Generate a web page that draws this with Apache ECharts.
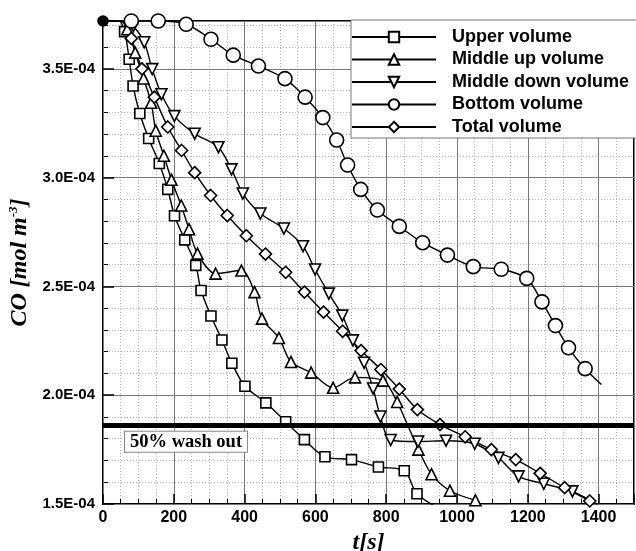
<!DOCTYPE html>
<html>
<head>
<meta charset="utf-8">
<script src="https://cdn.jsdelivr.net/npm/echarts@6/dist/echarts.min.js"></script>
<style>html,body{margin:0;padding:0;background:#fff}#c{width:636px;height:551px}</style>
</head>
<body>
<div id="c"></div>
<script>
// values in units of 1E-04 mol m^-3, time in s
const seriesNames = ['Upper volume', 'Middle up volume', 'Middle down volume', 'Bottom volume', 'Total volume'];

const upperT  = [0, 45, 61, 74, 85, 104, 129, 159, 183, 202, 231, 262, 277, 305, 336, 364, 401, 460, 516, 569, 627, 702, 778, 851, 887, 960];
const upperCO = [3.72, 3.72, 3.671, 3.544, 3.421, 3.295, 3.180, 3.065, 2.946, 2.825, 2.714, 2.597, 2.481, 2.364, 2.254, 2.147, 2.041, 1.965, 1.878, 1.796, 1.717, 1.704, 1.670, 1.653, 1.547, 1.47];

const midUpT  = [0, 50, 68.5, 91, 114.5, 136, 149, 172, 193.5, 221, 243, 267, 318, 391, 428, 449, 497, 531, 588, 650, 712, 791, 831, 891, 928, 980, 1052];
const midUpCO = [3.72, 3.72, 3.682, 3.5745, 3.456, 3.3445, 3.2157, 3.1007, 2.990, 2.872, 2.763, 2.651, 2.559, 2.573, 2.474, 2.352, 2.263, 2.153, 2.104, 2.034, 2.082, 2.067, 1.969, 1.750, 1.637, 1.561, 1.517];

const midDownT  = [0, 60, 85.5, 116.5, 139, 165, 201.7, 259, 326, 363, 395, 444.6, 511, 565, 599, 638, 676, 706, 737.6, 763, 783.6, 812.7, 890, 969, 1050, 1117, 1174, 1245, 1326, 1397];
const midDownCO = [3.72, 3.72, 3.696, 3.622, 3.499, 3.383, 3.283, 3.202, 3.140, 3.038, 2.927, 2.835, 2.766, 2.685, 2.578, 2.467, 2.366, 2.252, 2.149, 2.031, 1.902, 1.794, 1.787, 1.791, 1.777, 1.712, 1.627, 1.593, 1.558, 1.497];

const bottomT  = [0, 80, 156, 235, 305, 368, 439, 514, 571, 621, 660, 691, 728, 775, 837, 903, 973, 1046, 1125, 1197, 1240, 1278, 1315, 1362, 1408];
const bottomCO = [3.72, 3.72, 3.72, 3.705, 3.636, 3.563, 3.513, 3.455, 3.370, 3.276, 3.173, 3.058, 2.946, 2.851, 2.776, 2.701, 2.644, 2.591, 2.579, 2.537, 2.429, 2.320, 2.218, 2.122, 2.049];

const totalT  = [0, 55, 80, 110, 145, 183, 222, 259, 304, 351, 405, 459, 516, 569, 623, 677, 729, 785, 837, 888, 952, 1023, 1097, 1166, 1235, 1304, 1375];
const totalCO = [3.72, 3.72, 3.64, 3.50, 3.37, 3.233, 3.125, 3.023, 2.918, 2.826, 2.733, 2.649, 2.565, 2.474, 2.382, 2.294, 2.205, 2.118, 2.028, 1.934, 1.865, 1.809, 1.750, 1.704, 1.641, 1.575, 1.514];

const washOut = 1.86;
const washLabel = '50% wash out';

const xTickLabels = [0, 200, 400, 600, 800, 1000, 1200, 1400];
const yTickLabels = [1.5, 2.0, 2.5, 3.0, 3.5];

function build(t, v, noSymbol, firstDot) {
  return t.map((x, i) => {
    const item = { value: [x, v[i]] };
    if (i === 0 && firstDot) {
      item.symbol = 'circle'; item.symbolSize = 10;
      item.itemStyle = { color: '#000', borderColor: '#000' };
    } else if (noSymbol.indexOf(i) >= 0) {
      item.symbol = 'none';
    }
    return item;
  });
}

const chart = echarts.init(document.getElementById('c'), null, { renderer: 'canvas' });
const lineStyle = { color: '#000', width: 1.4 };
const markStyle = { color: '#fff', borderColor: '#000', borderWidth: 1.6 };
const labelFont = { fontFamily: 'Liberation Sans', fontWeight: 'bold', color: '#000' };

function mkSeries(name, data, symbol, size, rotate) {
  return {
    name, type: 'line', data, symbol, symbolSize: size, symbolRotate: rotate || 0,
    smooth: 0.3, showAllSymbol: true, clip: true,
    lineStyle, itemStyle: markStyle, emphasis: { disabled: true }
  };
}

const s1 = mkSeries(seriesNames[0], build(upperT, upperCO, [0, 1, upperT.length - 1]), 'rect', 10);
s1.markLine = {
  silent: true, symbol: ['none', 'none'],
  lineStyle: { color: '#000', width: 5, type: 'solid' },
  data: [{ yAxis: washOut }],
  label: {
    show: true, position: 'insideStartBottom', formatter: washLabel,
    fontFamily: 'Liberation Serif', fontWeight: 'bold', fontSize: 18.5, color: '#000',
    backgroundColor: '#fff', borderColor: '#888', borderWidth: 1, padding: [1, 5, 0, 5],
    distance: [22, 6]
  }
};
const s2 = mkSeries(seriesNames[1], build(midUpT, midUpCO, [0, 1]), 'triangle', 11);
const s3 = mkSeries(seriesNames[2], build(midDownT, midDownCO, [0, 1, midDownT.length - 1]), 'triangle', 11, 180);
const s4 = mkSeries(seriesNames[3], build(bottomT, bottomCO, [bottomT.length - 1], true), 'circle', 14);
const s5 = mkSeries(seriesNames[4], build(totalT, totalCO, [0, 1]), 'diamond', 12);

const isMult = (v, step) => Math.abs(v / step - Math.round(v / step)) < 1e-6;

chart.setOption({
  animation: false,
  grid: { left: 103, right: 2, top: 21, bottom: 47, show: true, borderColor: '#000', borderWidth: 2,
          backgroundColor: 'transparent', containLabel: false, outerBoundsMode: 'none' },
  legend: {
    orient: 'vertical', left: 351, top: 20, itemWidth: 84, itemHeight: 13, itemGap: 2.5,
    padding: [7, 20, 1, 0], backgroundColor: '#fff', borderColor: '#777', borderWidth: 1,
    textStyle: { fontFamily: 'Liberation Sans', fontWeight: 'bold', fontSize: 18, color: '#000', lineHeight: 20, padding: [0, 0, 0, 11] },
    data: seriesNames, selectedMode: false
  },
  xAxis: [
    {
      type: 'value', min: 0, max: 1500, interval: 200, position: 'bottom', z: 1,
      axisLine: { show: false },
      axisTick: { inside: true, length: 10, lineStyle: { color: '#000', width: 1.5 } },
      axisLabel: { ...labelFont, fontSize: 16, margin: 6,
        formatter: v => (isMult(v, 200) && xTickLabels.indexOf(v) >= 0) ? String(v) : '' },
      splitLine: { lineStyle: { color: '#7a7a7a', width: 1 } },
      name: 't[s]', nameLocation: 'middle', nameGap: 20,
      nameTextStyle: { fontFamily: 'Liberation Serif', fontWeight: 'bold', fontStyle: 'italic', fontSize: 24, color: '#000' }
    },
    {
      type: 'value', min: 0, max: 1500, interval: 50, position: 'bottom', z: 0,
      axisLine: { show: false }, axisLabel: { show: false },
      axisTick: { inside: true, length: 5, lineStyle: { color: '#000', width: 1 } },
      splitLine: { lineStyle: { color: '#b0b0b0', width: 1, type: [1, 2] } }
    }
  ],
  yAxis: [
    {
      type: 'value', min: 1.5, max: 3.72, interval: 0.5, position: 'left', z: 1,
      axisLine: { show: false },
      axisTick: { inside: true, length: 11, lineStyle: { color: '#000', width: 1.5 } },
      axisLabel: { ...labelFont, fontSize: 15, margin: 8,
        formatter: v => (isMult(v, 0.5) && yTickLabels.some(y => Math.abs(y - v) < 1e-6)) ? v.toFixed(1) + 'E-04' : '' },
      splitLine: { lineStyle: { color: '#7a7a7a', width: 1 } },
      name: '{a|CO [mol m}{s|-3}{a|]}', nameLocation: 'middle', nameRotate: 90, nameGap: 66,
      nameTextStyle: {
        rich: {
          a: { fontFamily: 'Liberation Serif', fontWeight: 'bold', fontStyle: 'italic', fontSize: 24, color: '#000' },
          s: { fontFamily: 'Liberation Serif', fontWeight: 'bold', fontStyle: 'italic', fontSize: 13, color: '#000', padding: [0, 0, 12, 0] }
        }
      }
    },
    {
      type: 'value', min: 1.5, max: 3.72, interval: 0.1, position: 'left', z: 0,
      axisLine: { show: false }, axisLabel: { show: false },
      axisTick: { inside: true, length: 5, lineStyle: { color: '#000', width: 1 } },
      splitLine: { lineStyle: { color: '#b0b0b0', width: 1, type: [1, 2] } }
    }
  ],
  series: [s1, s2, s3, s4, s5]
});
</script>
</body>
</html>
